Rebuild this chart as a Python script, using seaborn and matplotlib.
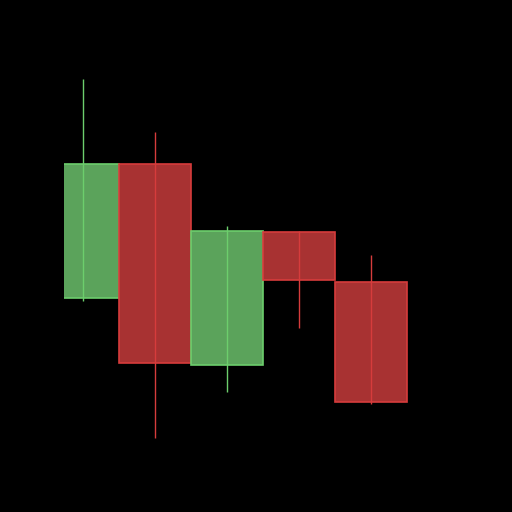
import matplotlib
matplotlib.use("Agg")
import matplotlib.pyplot as plt
import numpy as np
import seaborn as sns

# OHLC values
days = [0, 1, 2, 3, 4]
open_ = [20.1, 33.6, 13.4, 26.8, 21.7]
close = [33.6, 13.6, 26.9, 21.9, 9.7]
high = [42.1, 36.8, 27.4, 26.9, 24.5]
low = [19.8, 6.1, 10.7, 17.1, 9.5]

sns.set_theme(style="dark", rc={"figure.facecolor": "black", "axes.facecolor": "black"})

up_fill, up_line = "#5ba35b", "#6cce6c"
down_fill, down_line = "#a83232", "#d63c3c"

fig, ax = plt.subplots(figsize=(5.12, 5.12), dpi=100)

o = np.array(open_)
c = np.array(close)
up = c >= o
fills = [up_fill if u else down_fill for u in up]
lines = [up_line if u else down_line for u in up]

# bodies
ax.bar(days, c - o, bottom=o, width=1.0, color=fills, edgecolor=lines, linewidth=1.2, zorder=2)
# wicks
ax.vlines(days, low, high, colors=lines, linewidth=1.0, zorder=3)

ax.set_xlim(-0.26, 5.25)
ax.margins(y=0.05)
ax.axis("off")

fig.savefig("out.png", dpi=100, facecolor="black")
